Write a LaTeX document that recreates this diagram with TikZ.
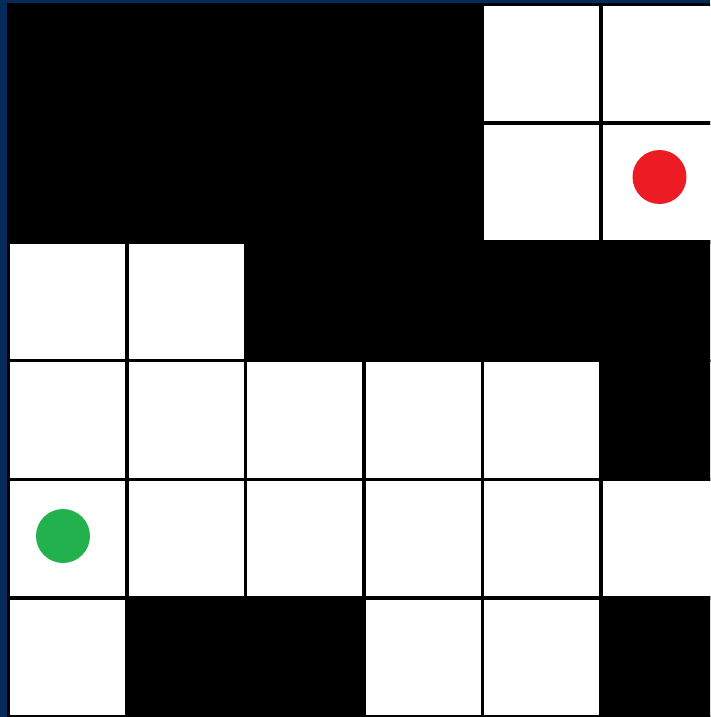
\documentclass[tikz,border=0pt]{standalone}
\definecolor{framebg}{RGB}{4,42,88}
\definecolor{startgreen}{RGB}{34,177,76}
\definecolor{goalred}{RGB}{237,28,36}
\begin{document}
\begin{tikzpicture}[
        x=1pt, y=-1pt,
        free/.style={fill=white, draw=black, line width=3.5pt},
        wall/.style={fill=black, draw=black, line width=3.5pt},
        dot/.style={circle, inner sep=0pt, minimum size=54pt}
    ]
        \useasboundingbox (0,0) rectangle (710,717);
        \fill[black] (0,0) rectangle (710,717);
        \fill[framebg] (0,0) rectangle (710,3);
        \fill[framebg] (0,0) rectangle (7,717);
        \begin{scope}
            \clip (7,3) rectangle (710,717);
            % open cells
            \foreach \c in {0,...,5}
                \foreach \r in {0,...,5}
                    \draw[free] ({8.5+118.5*\c},{4.5+118.7*\r}) rectangle ++(118.5,118.7);
            % walls
            \foreach \c/\r in {0/0,1/0,2/0,3/0,0/1,1/1,2/1,3/1,2/2,3/2,4/2,5/2,5/3,1/5,2/5,5/5}
                \draw[wall] ({8.5+118.5*\c},{4.5+118.7*\r}) rectangle ++(118.5,118.7);
        \end{scope}

        \node[dot, fill=goalred]    (goal)  at (659.5,177) {};
        \node[dot, fill=startgreen] (start) at (63,536) {};
    \end{tikzpicture}
\end{document}
